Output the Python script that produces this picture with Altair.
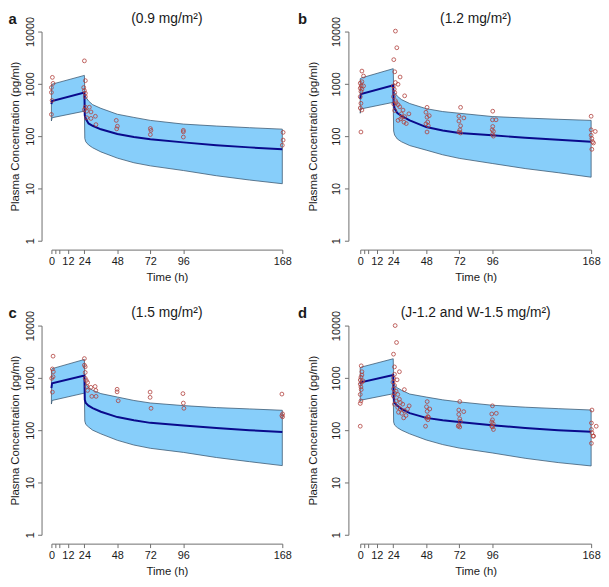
import altair as alt
import pandas as pd

FONT = "Liberation Sans"

# ---------------- data ----------------
T_BAND = [0, 0.5, 24, 24.3, 25, 27, 30, 36, 48, 60, 72, 96, 120, 144, 168]

A_UPPER = [950, 985, 1450, 650, 560, 470, 400, 340, 262, 228, 200, 170, 156, 145, 136]
A_MEDIAN = [410, 470, 680, 250, 215, 175, 158, 135, 110, 96, 87, 76, 67, 61, 56]
A_LOWER = [195, 225, 300, 90, 78, 68, 60, 50, 38, 31, 27, 22, 17.5, 14.5, 12.3]

B_UPPER = [1250, 1290, 1950, 760, 680, 580, 500, 420, 335, 295, 274, 237, 222, 210, 200]
B_MEDIAN = [510, 640, 940, 420, 340, 275, 245, 200, 149, 128, 115, 104, 93, 85, 78]
B_LOWER = [274, 331, 443, 125, 105, 88, 78, 66, 54, 44, 37.6, 30, 24, 20, 16.4]

C_UPPER = [1450, 1500, 2250, 900, 760, 650, 580, 500, 430, 370, 331, 295, 270, 255, 240]
C_MEDIAN = [636, 790, 1105, 380, 330, 295, 265, 225, 178, 155, 138, 123, 110, 100, 92]
C_LOWER = [316, 370, 511, 149, 129, 115, 100, 85, 64, 52, 45, 37.6, 30, 25, 21]

D_UPPER = [1560, 1600, 2320, 800, 720, 645, 580, 490, 430, 380, 347, 300, 275, 258, 243]
D_MEDIAN = [770, 820, 1137, 420, 330, 295, 255, 212, 172, 155, 143, 124, 110, 100, 93]
D_LOWER = [362, 375, 497, 143, 125, 112, 100, 85, 65, 53, 45.5, 36.7, 29, 24, 20.7]

A_OBS_T = [0.7, 1.2, 0, 0, 0.5, 0, 24, 24.7, 23.5, 24, 24.7, 24.7, 24, 24.7, 25.6, 27.6,
           28.8, 25.7, 32, 28.8, 32.4, 47.2, 48, 47.5, 72, 72.4, 72, 96, 96, 96, 168.6, 168.6, 168]
A_OBS_C = [1330, 1020, 850, 685, 480, 260, 2750, 1150, 850, 745, 660, 570, 321, 360, 300, 357,
           290, 225, 240, 218, 166, 200, 155, 138, 140, 129, 107, 129, 121, 96, 118, 84, 67]

B_OBS_T = [1.2, 2.4, 0, 0.7, 0, 1.2, 0.5, 0, 0.5, 0, 1.2, 0.5, 1.2, 2.4,
           25.6, 26.6, 24.4, 25.1, 25.6, 27.5, 29, 24, 24.7, 25.1, 24.2, 25.6, 24.4, 26.1,
           27.5, 28.7, 25.1, 29.9, 31.1, 32.3, 29.4, 31.8, 33.5, 35.4, 32.3, 27.5, 30.4,
           48.6, 47.8, 48.6, 50.2, 49.1, 47.8, 48.6, 49.5,
           73, 71.8, 75.4, 71.8, 73, 72.5, 71.8, 73,
           96.4, 96.2, 98.8, 96.4, 96, 96.9, 96.2, 96.9,
           168, 168, 171, 168, 168.5, 169, 169.7, 168.5]
B_OBS_C = [1755, 1410, 1030, 910, 826, 790, 715, 567, 424, 345, 316, 120, 1100, 910,
           10200, 4900, 2900, 1700, 1060, 980, 1350, 910, 790, 680, 570, 475, 410, 435,
           400, 365, 309, 267, 315, 590, 214, 185, 174, 267, 236, 200, 230,
           355, 286, 230, 246, 186, 172, 120, 158,
           355, 240, 223, 194, 158, 132, 120, 115,
           300, 205, 205, 153, 132, 123, 108, 100,
           240, 132, 123, 104, 90, 78, 74, 56]

C_OBS_T = [1.2, 0.7, 1.4, 1.2, 0.2, 0.7,
           24, 24, 24.6, 24.6, 24.6, 25.4, 26.3, 25.8, 26.3, 28.7, 31.8, 32.3, 29.4, 32.5,
           47.8, 47.8, 48.6, 71.8, 71.8, 72.5, 95.7, 96, 96.4,
           167.7, 168.2, 168.2, 167.7]
C_OBS_C = [2600, 1480, 1310, 1050, 980, 535,
           2340, 1750, 1630, 1270, 980, 890, 815, 685, 575, 660, 685, 575, 443, 443,
           605, 540, 365, 535, 424, 262, 500, 330, 262,
           490, 205, 180, 190]

D_OBS_T = [0.7, 1.2, 0.5, 0, 1.2, 0, 0.5, 0.7, 0, 0.5, 0, 0, 1.2, 1.9,
           25.4, 26.4, 24.2, 24.9, 24.9, 28.5, 26.8, 24.2, 23.8, 24.9, 24.2, 24.9, 26.1, 24.2,
           27.3, 26.1, 28.5, 29.2, 32.1, 30.9, 24.9, 29.2, 32.1, 30.2, 33.3, 34.4, 35.6, 31.6,
           27.3, 27.8,
           48.7, 48.2, 48.7, 50.6, 49.2, 48.2, 49.2, 47.5, 49.6,
           72.4, 71.7, 75.3, 71.7, 72.4, 72.9, 71.7, 72.4, 71.3,
           96.2, 95.7, 99, 96.2, 95.7, 96.7, 95.7, 96.9, 96.2,
           168.6, 168.2, 171.7, 168.2, 168.6, 169.4, 169.8, 168.2]
D_OBS_C = [1700, 1310, 1030, 910, 830, 760, 670, 597, 482, 362, 324, 119, 1137, 880,
           10000, 4750, 2840, 1620, 1170, 1310, 918, 986, 830, 720, 616, 517, 556, 449,
           482, 362, 390, 337, 597, 314, 314, 254, 236, 210, 191, 254, 292, 172,
           272, 220,
           352, 280, 229, 254, 182, 170, 158, 119, 177,
           352, 243, 226, 200, 165, 147, 124, 115, 119,
           292, 204, 210, 158, 143, 133, 119, 103, 115,
           243, 137, 119, 103, 89, 77, 77, 56]

LETTERS = ["a", "b", "c", "d"]
TITLES = ["(0.9 mg/m\u00b2)", "(1.2 mg/m\u00b2)", "(1.5 mg/m\u00b2)", "(J-1.2 and W-1.5 mg/m\u00b2)"]
X_TICKS = [0, 3, 6, 12, 24, 48, 72, 96, 168]
Y_TICKS = [1, 10, 100, 1000, 10000]

BAND_FILL = "#87CEFA"
BAND_EDGE = "#3D5A73"
MED_COLOR = "#0A0A8C"
PT_COLOR = "#B0403C"
AXIS_COLOR = "#6E6E6E"
TEXT_COLOR = "#1A1A1A"

W, H = 234, 212

PANELS = [
    (A_UPPER, A_MEDIAN, A_LOWER, A_OBS_T, A_OBS_C),
    (B_UPPER, B_MEDIAN, B_LOWER, B_OBS_T, B_OBS_C),
    (C_UPPER, C_MEDIAN, C_LOWER, C_OBS_T, C_OBS_C),
    (D_UPPER, D_MEDIAN, D_LOWER, D_OBS_T, D_OBS_C),
]


def make_panel(i):
    upper, median, lower, obs_t, obs_c = PANELS[i]
    col = i % 2
    band_df = pd.DataFrame({"t": T_BAND, "upper": upper, "median": median, "lower": lower})
    obs_df = pd.DataFrame({"t": obs_t, "c": obs_c})

    xscale = alt.Scale(domain=[0, 168], nice=False, zero=False)
    yscale = alt.Scale(type="log", domain=[1, 10000], nice=False)
    common = dict(
        grid=False, domainColor=AXIS_COLOR, tickColor=AXIS_COLOR, domainWidth=1, tickWidth=1,
        tickSize=4, labelFont=FONT, titleFont=FONT, labelColor=TEXT_COLOR, titleColor=TEXT_COLOR,
        labelFontSize=11, titleFontSize=11.5, titleFontWeight="normal", labelOverlap=False,
    )
    xaxis = alt.Axis(
        values=X_TICKS, title="Time (h)", offset=9, labelPadding=2, titlePadding=5,
        labelFlush=False,
        labelExpr="datum.value == 3 || datum.value == 6 ? '' : datum.label", **common)
    yaxis = alt.Axis(
        values=Y_TICKS, format="d", title="Plasma Concentration (pg/ml)",
        offset=10 if col == 0 else 12, labelPadding=2 if col == 0 else 3,
        titlePadding=4 if col == 0 else 12,
        labelAngle=270, labelAlign="center", labelBaseline="bottom", **common)

    x = alt.X("t:Q", scale=xscale, axis=xaxis)
    band = alt.Chart(band_df).mark_area(
        fill=BAND_FILL, stroke=BAND_EDGE, strokeWidth=0.8, fillOpacity=1
    ).encode(x=x, y=alt.Y("upper:Q", scale=yscale, axis=yaxis), y2="lower:Q")
    med = alt.Chart(band_df).mark_line(color=MED_COLOR, strokeWidth=2).encode(
        x=x, y=alt.Y("median:Q", scale=yscale, axis=yaxis))
    pts = alt.Chart(obs_df).mark_point(
        shape="circle", filled=False, color=PT_COLOR, size=15, strokeWidth=0.8, opacity=1
    ).encode(x=x, y=alt.Y("c:Q", scale=yscale, axis=yaxis))
    title = alt.Chart(pd.DataFrame({"s": [TITLES[i]]})).mark_text(
        font=FONT, fontSize=14, align="center", baseline="alphabetic", color=TEXT_COLOR
    ).encode(x=alt.value(W / 2), y=alt.value(-9), text="s:N")
    letter = alt.Chart(pd.DataFrame({"s": [LETTERS[i]]})).mark_text(
        font=FONT, fontSize=15, fontWeight="bold", align="left", baseline="alphabetic",
        color=TEXT_COLOR
    ).encode(x=alt.value(-43.5 if col == 0 else -63), y=alt.value(-8), text="s:N")
    return alt.layer(band, med, pts, title, letter).properties(width=W, height=H)


chart = alt.concat(
    *[make_panel(i) for i in range(4)],
    columns=2,
    spacing={"row": 86, "column": 79},
    bounds="flush",
).properties(padding=0, background="white").configure_view(strokeWidth=0)

chart.save("out.html", embed_options={"renderer": "svg", "actions": False})
